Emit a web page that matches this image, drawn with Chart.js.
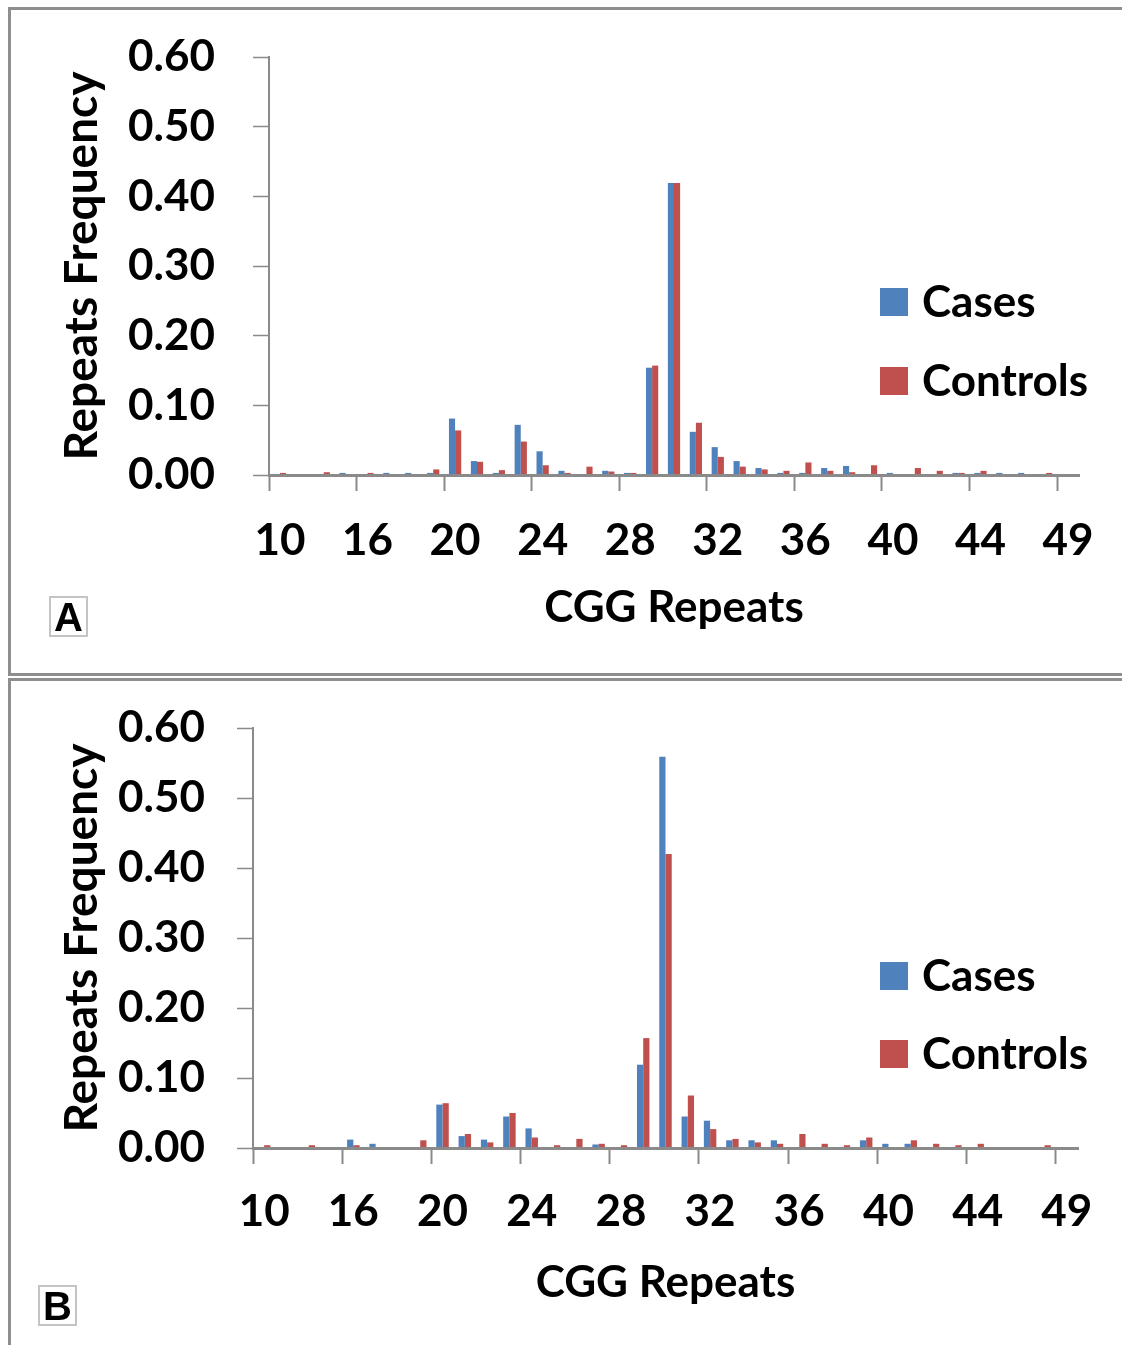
<!DOCTYPE html>
<html>
<head>
<meta charset="utf-8">
<script src="https://cdn.jsdelivr.net/npm/chart.js@4.4.1/dist/chart.umd.min.js"></script>
<style>
  html, body { margin:0; padding:0; background:#fff; }
  #wrap { position:relative; width:1122px; height:1345px; overflow:hidden; background:#fff; }
  .panel { position:absolute; box-sizing:border-box; border:3px solid #8e8e8e; }
  .tag { position:absolute; box-sizing:border-box; width:39px; height:41px; border:2px solid #c4c4c4;
         font:bold 40px "Liberation Sans", Arial, sans-serif; color:#000; text-align:center; line-height:38px; }
  canvas { position:absolute; left:0; }
</style>
</head>
<body>
<div id="wrap">
  <div class="panel" style="left:8px; top:7px; width:1140px; height:669px;"></div>
  <div class="panel" style="left:8px; top:678px; width:1140px; height:700px;"></div>
  <canvas id="chartA" width="1122" height="677" style="top:0px;"></canvas>
  <canvas id="chartB" width="1122" height="668" style="top:677px;"></canvas>
  <div class="tag" style="left:49px; top:596px;">A</div>
  <div class="tag" style="left:38px; top:1285px;">B</div>
</div>
<script>
// ---- data ----
const categories = ['10','13','14','15','16','17','18','19','20','21','22','23','24','25','26','27','28','29','30','31','32','33','34','35','36','37','38','39','40','41','42','43','44','45','46','47','49'];
const yTickLabels = ['0.00','0.10','0.20','0.30','0.40','0.50','0.60'];
const seriesNames = ['Cases', 'Controls'];

const casesA = [0,0,0,0.003,0,0.003,0.003,0.003,0.081,0.020,0.003,0.072,0.034,0.006,0,0.006,0.003,0.154,0.419,0.062,0.040,0.020,0.010,0.003,0.003,0.010,0.013,0,0.003,0,0,0.003,0.003,0.003,0.003,0,0];
const controlsA = [0.003,0,0.004,0,0.003,0,0,0.008,0.064,0.019,0.007,0.048,0.014,0.003,0.012,0.005,0.003,0.157,0.419,0.075,0.026,0.012,0.008,0.006,0.018,0.006,0.004,0.014,0,0.010,0.006,0.003,0.006,0,0,0.003,0];

const casesB = [0,0,0,0,0.012,0.006,0,0,0.062,0.017,0.012,0.045,0.028,0,0,0.005,0,0.119,0.559,0.045,0.039,0.011,0.011,0.011,0,0,0,0.011,0.006,0.006,0,0,0,0,0,0,0];
const controlsB = [0.004,0,0.004,0,0.004,0,0,0.011,0.064,0.020,0.008,0.050,0.015,0.004,0.013,0.006,0.004,0.157,0.420,0.075,0.027,0.013,0.008,0.006,0.020,0.006,0.004,0.015,0,0.011,0.006,0.004,0.006,0,0,0.004,0];

// ---- styling ----
const BLUE = '#4F81BD';
const RED = '#C0504D';
const AXIS = '#8a8a8a';
const FONT = { family: 'Lato', size: 44, weight: 'bold', lineHeight: 1.2 };
const YFONT = { family: 'Lato', size: 46, weight: 'bold', lineHeight: 1.2 };

Chart.defaults.font.family = 'Lato';

const insideLegend = {
  id: 'insideLegend',
  afterDraw(chart, args, opts) {
    const ctx = chart.ctx;
    ctx.save();
    ctx.font = 'bold 44px Lato';
    ctx.textBaseline = 'middle';
    ctx.textAlign = 'left';
    chart.data.datasets.forEach((ds, i) => {
      const y = opts.y[i];
      ctx.fillStyle = ds.backgroundColor;
      ctx.fillRect(opts.x, y - 14, 28, 28);
      ctx.fillStyle = '#000';
      ctx.fillText(ds.label, opts.x + 42, y + 1);
    });
    ctx.restore();
  }
};

function makeChart(id, cases, controls, g) {
  return new Chart(document.getElementById(id), {
    type: 'bar',
    data: {
      labels: categories,
      datasets: [
        { label: seriesNames[0], data: cases, backgroundColor: BLUE, borderWidth: 0,
          categoryPercentage: 0.56, barPercentage: 1.0 },
        { label: seriesNames[1], data: controls, backgroundColor: RED, borderWidth: 0,
          categoryPercentage: 0.56, barPercentage: 1.0 }
      ]
    },
    plugins: [insideLegend],
    options: {
      responsive: false,
      animation: false,
      layout: { padding: { left: 0, top: g.top, right: g.right, bottom: 0 } },
      plugins: {
        legend: { display: false },
        tooltip: { enabled: false },
        insideLegend: { x: 880, y: g.legendY }
      },
      scales: {
        x: {
          offset: true,
          ticks: {
            autoSkip: false, maxRotation: 0, minRotation: 0,
            callback: (v, i) => (i % 4 === 0 ? categories[i] : ''),
            font: FONT, color: '#000', padding: g.xTickPad
          },
          grid: {
            offset: true, drawOnChartArea: false, drawTicks: true, tickLength: 16,
            tickColor: (c) => (c.index % 4 === 0 ? AXIS : 'rgba(0,0,0,0)'), tickWidth: 2
          },
          border: { color: AXIS, width: 3, z: 1 },
          title: { display: true, text: 'CGG Repeats', font: FONT, color: '#000',
                   padding: { top: 0, bottom: g.xTitlePad } },
          afterFit: (s) => { s.height = g.xHeight; s.paddingLeft = 0; s.paddingRight = 0; }
        },
        y: {
          min: 0, max: 0.6,
          ticks: {
            stepSize: 0.1,
            callback: (v, i) => yTickLabels[i],
            font: FONT, color: '#000', padding: g.yTickPad
          },
          grid: { drawOnChartArea: false, drawTicks: true, tickLength: 16, tickColor: AXIS, tickWidth: 1.5 },
          border: { color: AXIS, width: 2 },
          title: { display: true, text: 'Repeats Frequency', font: YFONT, color: '#000',
                   padding: { top: g.yTitlePad, bottom: 0 } },
          afterFit: (s) => { s.width = g.yWidth; s.paddingTop = 0; s.paddingBottom = 0; }
        }
      }
    }
  });
}

makeChart('chartA', casesA, controlsA, {
  top: 57, right: 43, xHeight: 202, yWidth: 269,
  xTickPad: 23, xTitlePad: 43, yTickPad: 38, yTitlePad: 55,
  legendY: [302, 381]
});
makeChart('chartB', casesB, controlsB, {
  top: 51, right: 44, xHeight: 197, yWidth: 253,
  xTickPad: 21, xTitlePad: 36, yTickPad: 32, yTitlePad: 55,
  legendY: [299, 377]
});
</script>
</body>
</html>
